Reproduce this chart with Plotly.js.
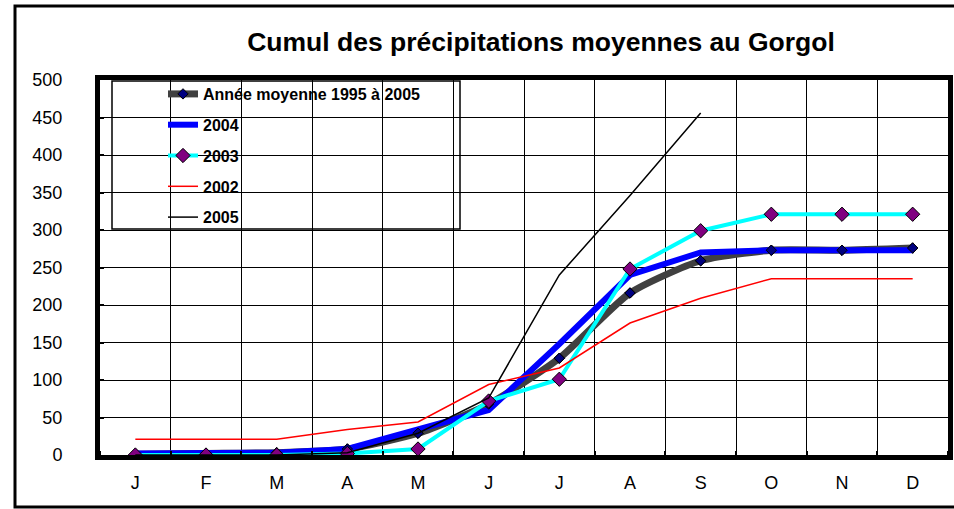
<!DOCTYPE html>
<html>
<head>
<meta charset="utf-8">
<script src="https://cdn.plot.ly/plotly-3.0.1.min.js"></script>
<style>html,body{margin:0;padding:0;background:#fff;}#chart{width:954px;height:509px;}</style>
</head>
<body>
<div id="chart"></div>
<script>
// ---- data ----
const months = ["J","F","M","A","M","J","J","A","S","O","N","D"];
const moyenne = [1, 2, 3, 8, 29, 68, 129, 216, 259, 273, 273, 276];
const y2004   = [2, 2, 3, 8, 34, 60, 148, 240, 270, 273, 273, 273];
const y2003   = [0, 0, 0, 2, 8, 72, 101, 248, 299, 321, 321, 321];
const y2002   = [21, 21, 21, 34, 44, 94, 116, 176, 209, 235, 235, 235];
const y2005   = [0, 0, 0, 3, 29, 76, 240, 346, 456];
const seriesNames = ["Année moyenne 1995 à 2005", "2004", "2003", "2002", "2005"];
const yTicks = [0, 50, 100, 150, 200, 250, 300, 350, 400, 450, 500];

// ---- geometry helpers ----
const W = 954, H = 509, L = 100, R = 948, T = 80, B = 455;
const px2x = p => (p - L) / (R - L);
const py2y = p => (B - p) / (B - T);
const xs = arr => arr.map((_, i) => i);

const FONT = "Liberation Sans, Arial, sans-serif";

const traces = [
  {
    x: xs(moyenne), y: moyenne, name: seriesNames[0], legendgroup: "g0",
    mode: "lines+markers", line: {color: "#404040", width: 7, shape: "spline", smoothing: 0.6},
    marker: {symbol: "diamond", size: 8, color: "#000080", line: {color: "#000", width: 1}}
  },
  {
    x: xs(y2004), y: y2004, name: seriesNames[1], legendgroup: "g1",
    mode: "lines", line: {color: "#0000FF", width: 6}
  },
  {
    x: xs(moyenne), y: moyenne, name: seriesNames[0], legendgroup: "g0", showlegend: false,
    mode: "markers", hoverinfo: "skip",
    marker: {symbol: "diamond", size: 8, color: "#000080", line: {color: "#000", width: 1}}
  },
  {
    x: xs(y2003), y: y2003, name: seriesNames[2], legendgroup: "g2",
    mode: "lines+markers", line: {color: "#00FFFF", width: 4},
    marker: {symbol: "diamond", size: 11, color: "#800080", line: {color: "#000", width: 1}}
  },
  {
    x: xs(y2002), y: y2002, name: seriesNames[3], legendgroup: "g3",
    mode: "lines", line: {color: "#FF0000", width: 1.5}
  },
  {
    x: xs(y2005), y: y2005, name: seriesNames[4], legendgroup: "g4",
    mode: "lines", line: {color: "#000000", width: 1.5}
  }
];

const layout = {
  width: W, height: H,
  margin: {l: L, r: W - R, t: T, b: H - B, pad: 0},
  paper_bgcolor: "#fff", plot_bgcolor: "#fff",
  font: {family: FONT, color: "#000"},
  title: {
    text: "<b>Cumul des précipitations moyennes au Gorgol</b>",
    font: {family: FONT, size: 26.5, color: "#000"},
    x: 541 / W, xref: "container", xanchor: "center",
    y: 1 - 42 / H, yref: "container", yanchor: "middle"
  },
  xaxis: {
    range: [-0.5, 11.5],
    tickmode: "array", tickvals: xs(months), ticktext: months,
    showgrid: false, zeroline: false,
    showline: true, linecolor: "#000", linewidth: 5, mirror: true,
    ticks: "", tickfont: {family: FONT, size: 18, color: "#000"},
    ticklabelstandoff: 7,
    minor: {tick0: 0.5, dtick: 1, showgrid: true, gridcolor: "#000", gridwidth: 1,
            ticks: "inside", ticklen: 4, tickcolor: "#000", tickwidth: 2}
  },
  yaxis: {
    range: [0, 500], tickmode: "array", tickvals: yTicks,
    showgrid: true, gridcolor: "#000", gridwidth: 1, zeroline: false,
    showline: true, linecolor: "#000", linewidth: 5, mirror: true,
    ticks: "inside", ticklen: 4, tickcolor: "#000", tickwidth: 2,
    tickfont: {family: FONT, size: 18, color: "#000"},
    ticklabelstandoff: 29
  },
  showlegend: true,
  legend: {
    x: px2x(163), xanchor: "left", xref: "paper",
    y: py2y(77), yanchor: "top", yref: "paper",
    bgcolor: "rgba(0,0,0,0)", borderwidth: 0,
    font: {family: FONT, size: 16, color: "#000", weight: "bold"},
    tracegroupgap: 7, traceorder: "grouped", itemclick: false
  },
  shapes: [
    {type: "rect", xref: "paper", yref: "paper", layer: "between",
     x0: px2x(112), x1: px2x(460), y0: py2y(81), y1: py2y(229),
     fillcolor: "#fff", line: {color: "#000", width: 1.5}},
    {type: "rect", xref: "paper", yref: "paper", layer: "above",
     x0: px2x(15), x1: px2x(970), y0: py2y(6), y1: py2y(507),
     fillcolor: "rgba(0,0,0,0)", line: {color: "#000", width: 3}}
  ]
};

Plotly.newPlot("chart", traces, layout, {staticPlot: true, displayModeBar: false});
</script>
</body>
</html>
